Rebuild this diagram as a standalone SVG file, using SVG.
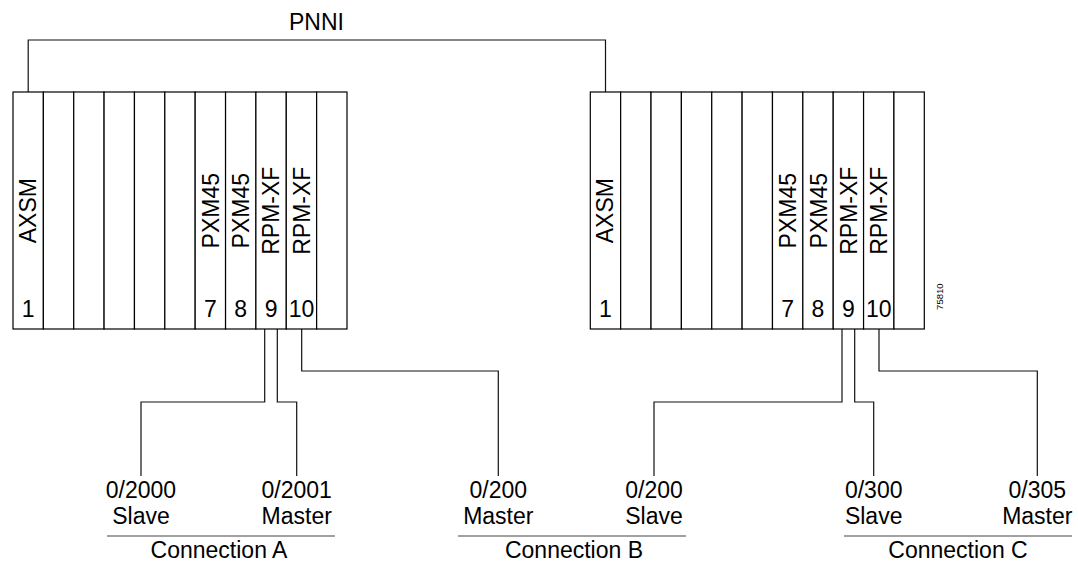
<svg xmlns="http://www.w3.org/2000/svg" width="1078" height="562" viewBox="0 0 1078 562">
<style>
  text { font-family: "Liberation Sans", Arial, sans-serif; font-size: 23px; fill: #000; }
  .slot { fill: #fff; stroke: #000; stroke-width: 1.2; }
  .lbl { text-anchor: middle; }
  .num { text-anchor: middle; }
  .wire { fill: none; stroke: #111; stroke-width: 1.2; }
  .rule { fill: none; stroke: #444; stroke-width: 1.2; }
  .small { font-size: 9.5px; text-anchor: middle; }
</style>
<rect width="1078" height="562" fill="#fff"/>

<g id="connectors">
  <polyline class="wire" points="28.2,92 28.2,40 605.5,40 605.5,92"/>
  <polyline class="wire" points="264.7,329 264.7,402 141,402 141,476"/>
  <polyline class="wire" points="277.3,329 277.3,402 296.7,402 296.7,476"/>
  <polyline class="wire" points="301.7,329 301.7,371 498.3,371 498.3,476"/>
  <polyline class="wire" points="842,329 842,402 654,402 654,476"/>
  <polyline class="wire" points="854.7,329 854.7,402 873.7,402 873.7,476"/>
  <polyline class="wire" points="879,329 879,371 1037.3,371 1037.3,476"/>
</g>

<text id="pnni-label" x="316.5" y="30" class="lbl">PNNI</text>

<g id="chassis-left">
  <rect class="slot" x="13" y="92" width="30.36" height="237"/>
  <rect class="slot" x="43.36" y="92" width="30.36" height="237"/>
  <rect class="slot" x="73.73" y="92" width="30.36" height="237"/>
  <rect class="slot" x="104.09" y="92" width="30.36" height="237"/>
  <rect class="slot" x="134.45" y="92" width="30.36" height="237"/>
  <rect class="slot" x="164.82" y="92" width="30.36" height="237"/>
  <rect class="slot" x="195.18" y="92" width="30.36" height="237"/>
  <rect class="slot" x="225.55" y="92" width="30.36" height="237"/>
  <rect class="slot" x="255.91" y="92" width="30.36" height="237"/>
  <rect class="slot" x="286.27" y="92" width="30.36" height="237"/>
  <rect class="slot" x="316.64" y="92" width="30.36" height="237"/>
  <text class="lbl" transform="translate(35.8,210.7) rotate(-90)">AXSM</text>
  <text class="lbl" transform="translate(218.8,210.7) rotate(-90)">PXM45</text>
  <text class="lbl" transform="translate(249.2,210.7) rotate(-90)">PXM45</text>
  <text class="lbl" transform="translate(279.3,210.7) rotate(-90)">RPM-XF</text>
  <text class="lbl" transform="translate(309.8,210.7) rotate(-90)">RPM-XF</text>
  <text class="num" x="28.2" y="317">1</text>
  <text class="num" x="210.4" y="317">7</text>
  <text class="num" x="240.7" y="317">8</text>
  <text class="num" x="271.1" y="317">9</text>
  <text class="num" x="301.5" y="317">10</text>
</g>

<g id="chassis-right">
  <rect class="slot" x="590.3" y="92" width="30.36" height="237"/>
  <rect class="slot" x="620.66" y="92" width="30.36" height="237"/>
  <rect class="slot" x="651.03" y="92" width="30.36" height="237"/>
  <rect class="slot" x="681.39" y="92" width="30.36" height="237"/>
  <rect class="slot" x="711.75" y="92" width="30.36" height="237"/>
  <rect class="slot" x="742.12" y="92" width="30.36" height="237"/>
  <rect class="slot" x="772.48" y="92" width="30.36" height="237"/>
  <rect class="slot" x="802.85" y="92" width="30.36" height="237"/>
  <rect class="slot" x="833.21" y="92" width="30.36" height="237"/>
  <rect class="slot" x="863.57" y="92" width="30.36" height="237"/>
  <rect class="slot" x="893.94" y="92" width="30.36" height="237"/>
  <text class="lbl" transform="translate(613.1,210.7) rotate(-90)">AXSM</text>
  <text class="lbl" transform="translate(796.1,210.7) rotate(-90)">PXM45</text>
  <text class="lbl" transform="translate(826.5,210.7) rotate(-90)">PXM45</text>
  <text class="lbl" transform="translate(856.6,210.7) rotate(-90)">RPM-XF</text>
  <text class="lbl" transform="translate(887.1,210.7) rotate(-90)">RPM-XF</text>
  <text class="num" x="605.5" y="317">1</text>
  <text class="num" x="787.7" y="317">7</text>
  <text class="num" x="818" y="317">8</text>
  <text class="num" x="848.4" y="317">9</text>
  <text class="num" x="878.8" y="317">10</text>
</g>

<text id="fig-id" class="small" transform="translate(943.3,296.7) rotate(-90)">75810</text>

<g id="endpoint-a1"><text class="lbl" x="141" y="497.5">0/2000</text><text class="lbl" x="141" y="524">Slave</text></g>
<g id="endpoint-a2"><text class="lbl" x="296.7" y="497.5">0/2001</text><text class="lbl" x="296.7" y="524">Master</text></g>
<g id="endpoint-b1"><text class="lbl" x="498.3" y="497.5">0/200</text><text class="lbl" x="498.3" y="524">Master</text></g>
<g id="endpoint-b2"><text class="lbl" x="654" y="497.5">0/200</text><text class="lbl" x="654" y="524">Slave</text></g>
<g id="endpoint-c1"><text class="lbl" x="873.7" y="497.5">0/300</text><text class="lbl" x="873.7" y="524">Slave</text></g>
<g id="endpoint-c2"><text class="lbl" x="1037.3" y="497.5">0/305</text><text class="lbl" x="1037.3" y="524">Master</text></g>

<g id="connection-a"><line class="rule" x1="107" y1="536" x2="335" y2="536"/><text class="lbl" x="219" y="558">Connection A</text></g>
<g id="connection-b"><line class="rule" x1="458" y1="536" x2="686" y2="536"/><text class="lbl" x="574" y="558">Connection B</text></g>
<g id="connection-c"><line class="rule" x1="844" y1="536" x2="1072" y2="536"/><text class="lbl" x="958" y="558">Connection C</text></g>
</svg>
